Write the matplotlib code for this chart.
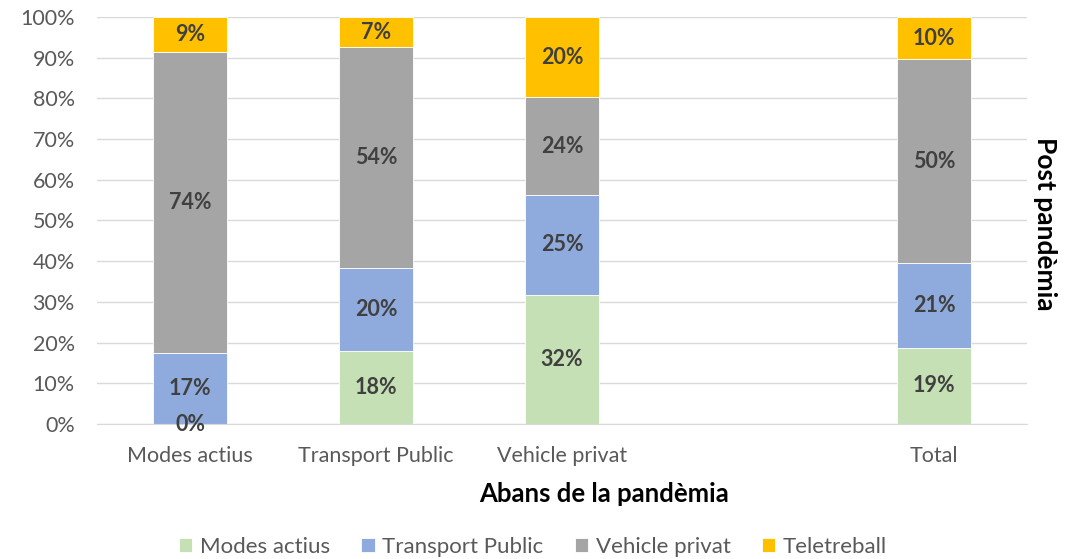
import matplotlib
matplotlib.use("Agg")
import matplotlib.pyplot as plt
import numpy as np

plt.rcParams['font.family'] = ['Lato', 'DejaVu Sans']

categories = ["Modes actius", "Transport Public", "Vehicle privat", "", "Total"]
series_names = ["Modes actius", "Transport Public", "Vehicle privat", "Teletreball"]
modes_actius = [0.0, 17.9, 31.7, np.nan, 18.7]
transport_public = [17.4, 20.4, 24.6, np.nan, 20.9]
vehicle_privat = [74.0, 54.3, 24.0, np.nan, 50.0]
teletreball = [8.6, 7.4, 19.7, np.nan, 10.4]
colors = ["#C5E0B4", "#8FAADC", "#A5A5A5", "#FFC000"]

fig = plt.figure(figsize=(10.71, 5.59), dpi=100)
ax = fig.add_axes([0.0906, 0.2415, 0.959 - 0.0906, 0.9696 - 0.2415])

x = np.arange(len(categories))
bottom = np.zeros(len(categories))
handles = []
for name, vals, c in zip(series_names, [modes_actius, transport_public, vehicle_privat, teletreball], colors):
    v = np.array(vals, dtype=float)
    vv = np.nan_to_num(v)
    bars = ax.bar(x, vv, width=0.4, bottom=bottom, color=c, edgecolor="white", linewidth=0.6, label=name, zorder=2)
    labels = ["" if np.isnan(a) else f"{a:.0f}%" for a in v]
    ax.bar_label(bars, labels=labels, label_type="center", fontsize=15.5, fontweight="bold", color="#404040")
    bottom += vv
    handles.append(bars)

ax.set_xlim(-0.5, len(categories) - 0.5)
ax.set_ylim(0, 100)
ax.set_yticks(np.arange(0, 101, 10))
ax.set_yticklabels([f"{t}%" for t in range(0, 101, 10)])
ax.set_xticks(x)
ax.set_xticklabels(categories)
ax.tick_params(axis="both", length=0, labelsize=15.5, colors="#595959")
ax.tick_params(axis="y", pad=16)
ax.tick_params(axis="x", pad=16)
ax.grid(axis="y", color="#D9D9D9", linewidth=1, zorder=0)
for s in ["top", "right", "left"]:
    ax.spines[s].set_visible(False)
ax.spines["bottom"].set_color("#D9D9D9")

ax.set_xlabel("Abans de la pandèmia", fontsize=18.5, fontweight="bold", color="black")
ax.xaxis.set_label_coords((604 - 97) / 930, -(494 - 424) / 407)
ax.xaxis.label.set_va("center")
fig.text(1045 / 1071, 1 - 224 / 559, "Post pandèmia", rotation=-90, fontsize=19, fontweight="bold",
         ha="center", va="center")

fig.legend(handles=handles, labels=series_names, loc="center", bbox_to_anchor=(533 / 1071, 1 - 547 / 559),
           ncol=4, frameon=False, fontsize=16, handlelength=0.6, handleheight=0.6, columnspacing=1.4,
           handletextpad=0.35, labelcolor="#595959")

fig.savefig("out.png", dpi=100)
